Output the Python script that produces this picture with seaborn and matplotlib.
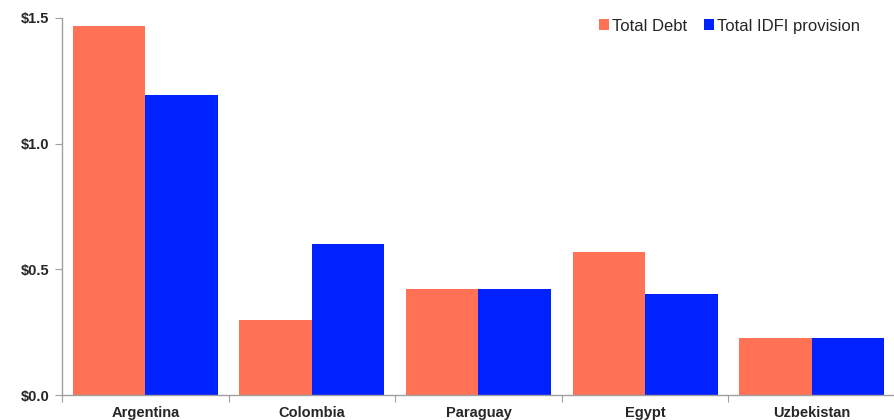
import matplotlib
matplotlib.use("Agg")
import matplotlib.pyplot as plt
from matplotlib.ticker import FuncFormatter, FixedLocator
import seaborn as sns
import pandas as pd

countries = ["Argentina", "Colombia", "Paraguay", "Egypt", "Uzbekistan"]
total_debt = [1.47, 0.30, 0.42, 0.57, 0.225]
total_idfi = [1.195, 0.60, 0.42, 0.40, 0.225]
series_names = ["Total Debt", "Total IDFI provision"]
y_ticks = [0.0, 0.5, 1.0, 1.5]

df = pd.DataFrame({
    "country": countries * 2,
    "series": [series_names[0]] * len(countries) + [series_names[1]] * len(countries),
    "value": total_debt + total_idfi,
})

sns.set_theme(style="white")
plt.rcParams["font.family"] = ["Liberation Sans", "DejaVu Sans"]

fig = plt.figure(figsize=(8.95, 4.2), dpi=100)
ax = fig.add_axes([62 / 895, 25 / 420, 1 - 62 / 895, 377 / 420])

palette = {series_names[0]: "#FF7256", series_names[1]: "#0022FF"}
sns.barplot(data=df, x="country", y="value", hue="series", order=countries,
            hue_order=series_names, palette=palette, width=0.87, gap=0,
            saturation=1, linewidth=0, errorbar=None, ax=ax)

ax.set_xlim(-0.5, len(countries) - 0.5)
ax.set_ylim(0, 1.5)
ax.set_xlabel("")
ax.set_ylabel("")

ax.yaxis.set_major_locator(FixedLocator(y_ticks))
ax.yaxis.set_major_formatter(FuncFormatter(lambda v, p: r"\$%.1f" % v))
ax.tick_params(axis="y", which="major", left=True, length=5, width=0.8,
               color="#A0A0A0", labelsize=10.5, pad=4)
for lbl in ax.get_yticklabels():
    lbl.set_fontweight("bold")

# category separators as tick marks; labels stay centered under groups
ax.set_xticks(range(len(countries)))
ax.set_xticklabels(countries, fontweight="bold", fontsize=10.5)
ax.tick_params(axis="x", which="major", bottom=False, length=0, pad=8)
ax.set_xticks([i - 0.5 for i in range(len(countries) + 1)], minor=True)
ax.tick_params(axis="x", which="minor", bottom=True, length=5, width=0.8,
               color="#A0A0A0")

for side in ["top", "right"]:
    ax.spines[side].set_visible(False)
for side in ["left", "bottom"]:
    ax.spines[side].set_color("#A0A0A0")
    ax.spines[side].set_linewidth(1.0)

leg = ax.legend(loc="upper right", bbox_to_anchor=(0.97, 1.025), ncol=2,
                frameon=False, fontsize=12, handlelength=0.6,
                handleheight=0.6, handletextpad=0.2, columnspacing=1.0,
                borderaxespad=0.2)

fig.savefig("out.png", dpi=100)
